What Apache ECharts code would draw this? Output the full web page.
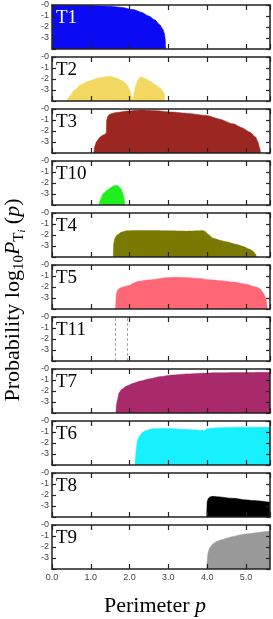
<!DOCTYPE html>
<html>
<head>
<meta charset="utf-8">
<script src="https://cdn.jsdelivr.net/npm/echarts@6/dist/echarts.min.js"></script>
<style>
  html, body { margin: 0; padding: 0; background: #fff; }
  #chart { width: 273px; height: 619px; }
</style>
</head>
<body>
<div id="chart"></div>
<script>
// perimeter p vs log10 probability, one array per tile type
var T1 = [[0, 0], [0.8, -0.03], [1.5, -0.12], [1.8, -0.22], [2.1, -0.42], [2.3, -0.65], [2.5, -1.0], [2.65, -1.35], [2.78, -1.8], [2.86, -2.2], [2.9, -2.6], [2.92, -3.1], [2.93, -3.8], [2.935, -4]];
var T2 = [[0.38, -4], [0.45, -3.6], [0.58, -3.0], [0.75, -2.5], [0.93, -2.2], [1.19, -1.9], [1.49, -1.76], [1.65, -1.9], [1.84, -2.2], [1.95, -2.6], [2.0, -3.0], [2.05, -3.5], [2.09, -3.95], [2.12, -3.2], [2.16, -2.6], [2.22, -2.05], [2.27, -1.8], [2.4, -1.95], [2.53, -2.2], [2.66, -2.5], [2.78, -2.8], [2.87, -3.15], [2.9, -3.4], [2.91, -4]];
var T3 = [[1.08, -4], [1.1, -3.4], [1.15, -2.95], [1.24, -2.55], [1.33, -2.35], [1.40, -2.2], [1.41, -1.0], [1.44, -0.65], [1.5, -0.45], [1.65, -0.32], [1.9, -0.2], [2.3, -0.1], [2.7, -0.15], [3.1, -0.28], [3.5, -0.4], [4.0, -0.6], [4.3, -0.9], [4.67, -1.35], [4.9, -1.7], [5.1, -2.1], [5.25, -2.55], [5.31, -3.0], [5.35, -3.5], [5.38, -4]];
var T10 = [[1.21, -4], [1.26, -3.4], [1.32, -2.95], [1.42, -2.65], [1.52, -2.4], [1.6, -2.25], [1.66, -2.2], [1.72, -2.3], [1.78, -2.55], [1.83, -2.95], [1.86, -3.4], [1.88, -4]];
var T4 = [[1.58, -4], [1.59, -2.8], [1.62, -2.3], [1.68, -2.0], [1.78, -1.75], [1.92, -1.62], [2.2, -1.6], [2.53, -1.6], [3.0, -1.62], [3.47, -1.65], [3.8, -1.62], [3.9, -1.6], [3.96, -1.72], [4.03, -1.95], [4.16, -2.3], [4.35, -2.5], [4.5, -2.62], [4.75, -2.85], [4.93, -3.05], [5.1, -3.3], [5.19, -3.5], [5.25, -3.75], [5.27, -4]];
var T5 = [[1.64, -4], [1.66, -2.6], [1.69, -2.3], [1.75, -2.08], [1.88, -1.95], [2.0, -1.85], [2.1, -1.65], [2.2, -1.5], [2.53, -1.35], [2.96, -1.15], [3.2, -1.12], [3.47, -1.15], [3.8, -1.22], [4.07, -1.35], [4.4, -1.45], [4.67, -1.55], [5.0, -1.75], [5.27, -2.0], [5.38, -2.2], [5.44, -2.5], [5.5, -2.9], [5.53, -3.3], [5.55, -4]];
var T11 = [1.64, 1.95]; // only the two dashed markers
var T7 = [[1.65, -4], [1.66, -3.3], [1.68, -2.9], [1.73, -2.15], [1.8, -1.85], [1.92, -1.55], [2.1, -1.3], [2.27, -1.1], [2.5, -0.9], [2.78, -0.7], [3.1, -0.55], [3.47, -0.45], [3.9, -0.38], [4.24, -0.35], [4.8, -0.32], [5.62, -0.3]];
var T6 = [[2.14, -4], [2.15, -3.4], [2.16, -3.0], [2.18, -2.3], [2.2, -1.8], [2.25, -1.4], [2.3, -1.15], [2.36, -0.98], [2.43, -0.85], [2.6, -0.7], [2.9, -0.68], [3.12, -0.7], [3.4, -0.75], [3.63, -0.8], [3.93, -0.87], [3.99, -0.72], [4.24, -0.62], [4.85, -0.57], [5.62, -0.58]];
var T8 = [[3.99, -4], [4.0, -2.6], [4.03, -2.3], [4.07, -2.18], [4.15, -2.12], [4.24, -2.15], [4.67, -2.3], [5.02, -2.45], [5.19, -2.5], [5.62, -2.65]];
var T9 = [[3.99, -4], [4.0, -3.3], [4.02, -2.6], [4.05, -2.2], [4.08, -2.0], [4.15, -1.72], [4.24, -1.5], [4.37, -1.33], [4.5, -1.2], [4.67, -1.05], [4.85, -0.9], [5.05, -0.8], [5.27, -0.7], [5.45, -0.62], [5.62, -0.55]];

var xTicks = ['0.0', '1.0', '2.0', '3.0', '4.0', '5.0'];
var yTicks = ['-0', '-1', '-2', '-3'];

var panels = [
    {name: 'T1', data: T1, color: '#0a0af5', label: '#fff'},
    {name: 'T2', data: T2, color: '#f2d860'},
    {name: 'T3', data: T3, color: '#9c2721'},
    {name: 'T10', data: T10, color: '#1ef01e'},
    {name: 'T4', data: T4, color: '#7a7a02'},
    {name: 'T5', data: T5, color: '#ff6676'},
    {name: 'T11', lines: T11},
    {name: 'T7', data: T7, color: '#a82a6a'},
    {name: 'T6', data: T6, color: '#17f0ff'},
    {name: 'T8', data: T8, color: '#000000'},
    {name: 'T9', data: T9, color: '#999999'}
];

var XMAX = 5.62;
var frame = {show: true, onZero: false, lineStyle: {color: '#222', width: 1.5}};

var grids = [], xAxes = [], yAxes = [], series = [], titles = [];
panels.forEach(function (p, i) {
    var top = 5 + 52 * i;
    var last = i === panels.length - 1;
    grids.push({left: 52, right: 3, top: top, height: 44});
    // bottom + mirrored top axis
    xAxes.push({
        type: 'value', gridIndex: i, min: 0, max: XMAX, interval: 1, z: 10,
        axisLine: frame, splitLine: {show: false},
        axisTick: {inside: true, length: 5, lineStyle: {color: '#222', width: 1.2}},
        axisLabel: {
            show: last, margin: 4, fontSize: 9, color: '#444', fontFamily: 'Liberation Sans',
            showMaxLabel: false,
            formatter: function (v) { return xTicks[v] || ''; }
        }
    });
    xAxes.push({
        type: 'value', gridIndex: i, position: 'top', min: 0, max: XMAX, interval: 1, z: 10,
        axisLine: frame, splitLine: {show: false}, axisLabel: {show: false},
        axisTick: {inside: true, length: 5, lineStyle: {color: '#222', width: 1.2}}
    });
    yAxes.push({
        type: 'value', gridIndex: i, min: -4, max: 0, interval: 1, z: 10,
        axisLine: frame, splitLine: {show: false},
        axisTick: {inside: true, length: 4, lineStyle: {color: '#222', width: 1.2}},
        axisLabel: {
            margin: 3, fontSize: 9, color: '#444', fontFamily: 'Liberation Sans',
            formatter: function (v) { return yTicks[-v] || ''; }
        }
    });
    yAxes.push({
        type: 'value', gridIndex: i, position: 'right', min: -4, max: 0, interval: 1, z: 10,
        axisLine: frame, splitLine: {show: false}, axisLabel: {show: false},
        axisTick: {inside: true, length: 4, lineStyle: {color: '#222', width: 1.2}}
    });
    if (p.data) {
        series.push({
            type: 'line', xAxisIndex: 2 * i, yAxisIndex: 2 * i, data: p.data,
            showSymbol: false, smooth: 0.2, smoothMonotone: 'x',
            lineStyle: {width: 0.5, color: p.color},
            areaStyle: {color: p.color, opacity: 1, origin: 'start'},
            z: 2
        });
    } else {
        series.push({
            type: 'line', xAxisIndex: 2 * i, yAxisIndex: 2 * i, data: [],
            markLine: {
                silent: true, symbol: 'none', label: {show: false},
                lineStyle: {color: '#aaa', type: [3, 2], width: 1},
                data: p.lines.map(function (v) { return {xAxis: v}; })
            }
        });
    }
    titles.push({
        text: p.name, left: 56, top: top + 4, padding: 0,
        textStyle: {fontFamily: 'Liberation Serif', fontWeight: 'normal', fontSize: 19, color: p.label || '#000'}
    });
});

var chart = echarts.init(document.getElementById('chart'));
chart.setOption({
    animation: false,
    title: titles,
    grid: grids,
    xAxis: xAxes,
    yAxis: yAxes,
    series: series,
    graphic: [
        {
            type: 'text', x: 13, y: 300, rotation: Math.PI / 2,
            style: {
                text: '{a|Probability log}{s|10}{c|P}{s|T}{t|i}{a| (}{c|p}{a|)}',
                align: 'center', verticalAlign: 'middle',
                rich: {
                    a: {fontFamily: 'Liberation Serif', fontSize: 22, lineHeight: 28, verticalAlign: 'middle', fill: '#000'},
                    c: {fontFamily: 'Liberation Serif', fontStyle: 'italic', fontSize: 22, lineHeight: 28, verticalAlign: 'middle', fill: '#000'},
                    s: {fontFamily: 'Liberation Serif', fontSize: 15, lineHeight: 14, verticalAlign: 'bottom', fill: '#000'},
                    t: {fontFamily: 'Liberation Serif', fontStyle: 'italic', fontSize: 10, lineHeight: 9, verticalAlign: 'bottom', fill: '#000'}
                }
            }
        },
        {
            type: 'text', x: 155, y: 606,
            style: {
                text: '{a|Perimeter }{c|p}',
                align: 'center', verticalAlign: 'middle',
                rich: {
                    a: {fontFamily: 'Liberation Serif', fontSize: 22, fill: '#000'},
                    c: {fontFamily: 'Liberation Serif', fontStyle: 'italic', fontSize: 22, fill: '#000'}
                }
            }
        }
    ]
});
</script>
</body>
</html>
